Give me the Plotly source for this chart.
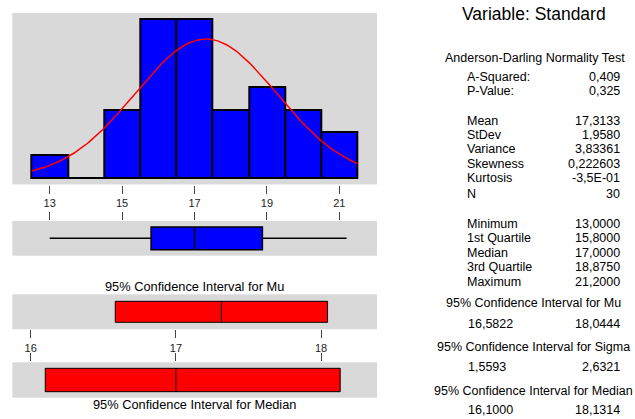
import numpy as np
import plotly.graph_objects as go

# ---------------- data ----------------
bin_centers = [13, 14, 15, 16, 17, 18, 19, 20, 21]
counts = [1, 0, 3, 7, 7, 3, 4, 3, 2]
mean = 17.3133
stdev = 1.9580
n_obs = 30
box_min, box_q1, box_median, box_q3, box_max = 13.0, 15.8, 17.0, 18.875, 21.2
mu_ci = [16.5822, 18.0444]
median_ci = [16.1000, 18.1314]
hist_ticks = [13, 15, 17, 19, 21]
ci_ticks = [16, 17, 18]

title_text = "Variable: Standard"
ad_title = "Anderson-Darling Normality Test"
ad_labels = ["A-Squared:", "P-Value:"]
ad_values = ["0,409", "0,325"]
desc_labels = ["Mean", "StDev", "Variance", "Skewness", "Kurtosis", "N"]
desc_values = ["17,3133", "1,9580", "3,83361", "0,222603", "-3,5E-01", "30"]
quart_labels = ["Minimum", "1st Quartile", "Median", "3rd Quartile", "Maximum"]
quart_values = ["13,0000", "15,8000", "17,0000", "18,8750", "21,2000"]
ci_titles = ["95% Confidence Interval for Mu",
             "95% Confidence Interval for Sigma",
             "95% Confidence Interval for Median"]
ci_low = ["16,5822", "1,5593", "16,1000"]
ci_high = ["18,0444", "2,6321", "18,1314"]

# ---------------- geometry helpers ----------------
W, H = 635, 419
def px(x):
    return x / W
def py(y):
    return 1 - y / H

FONT = "Liberation Sans, Arial, sans-serif"
GRAY = "#d9d9d9"
TICKC = "#444444"

fig = go.Figure()

# histogram
fig.add_trace(go.Bar(x=bin_centers, y=counts, width=1,
                     marker=dict(color="#0000ff", line=dict(color="black", width=2)),
                     xaxis="x", yaxis="y", showlegend=False))
# fitted normal curve
xs = np.linspace(bin_centers[0] - 0.5, bin_centers[-1] + 0.5, 200)
bw = bin_centers[1] - bin_centers[0]
ys = n_obs * bw / (stdev * np.sqrt(2 * np.pi)) * np.exp(-0.5 * ((xs - mean) / stdev) ** 2)
fig.add_trace(go.Scatter(x=xs, y=ys, mode="lines", line=dict(color="red", width=1.5),
                         xaxis="x", yaxis="y", showlegend=False))

# boxplot
fig.add_trace(go.Box(y=[0], q1=[box_q1], median=[box_median], q3=[box_q3],
                     lowerfence=[box_min], upperfence=[box_max], orientation="h",
                     fillcolor="#0000ff", line=dict(color="black", width=1.5),
                     whiskerwidth=0, width=0.66, xaxis="x2", yaxis="y2",
                     showlegend=False, boxpoints=False))

# CI for Mu
fig.add_trace(go.Box(y=[0], q1=[mu_ci[0]], median=[mean], q3=[mu_ci[1]],
                     lowerfence=[mu_ci[0]], upperfence=[mu_ci[1]], orientation="h",
                     fillcolor="#ff0000", line=dict(color="black", width=1),
                     whiskerwidth=0, width=0.6, xaxis="x3", yaxis="y3",
                     showlegend=False, boxpoints=False))
# CI for Median
fig.add_trace(go.Box(y=[0], q1=[median_ci[0]], median=[box_median], q3=[median_ci[1]],
                     lowerfence=[median_ci[0]], upperfence=[median_ci[1]], orientation="h",
                     fillcolor="#ff0000", line=dict(color="black", width=1),
                     whiskerwidth=0, width=0.66, xaxis="x4", yaxis="y4",
                     showlegend=False, boxpoints=False))

xdom = [px(12.3), px(377)]
hist_range = [11.967, 22.04]
ci_range = [15.873, 18.385]
common_ax = dict(showgrid=False, zeroline=False, showline=False, fixedrange=True)
tickfont = dict(family=FONT, size=11, color="#222222")

fig.update_layout(
    width=W, height=H, margin=dict(l=0, r=0, t=0, b=0),
    paper_bgcolor="white", plot_bgcolor=GRAY, bargap=0,
    font=dict(family=FONT, size=11, color="black"),
    xaxis=dict(domain=xdom, range=hist_range, anchor="y", tickvals=hist_ticks,
               ticks="outside", ticklen=8, tickwidth=1, tickcolor=TICKC,
               tickfont=tickfont, **common_ax),
    yaxis=dict(domain=[py(184.5), py(13)], range=[-0.3, 7.26], anchor="x",
               showticklabels=False, ticks="", **common_ax),
    xaxis2=dict(domain=xdom, range=hist_range, anchor="y2", side="top", matches="x",
                tickvals=hist_ticks, ticks="outside", ticklen=8, tickwidth=1,
                tickcolor=TICKC, showticklabels=False, **common_ax),
    yaxis2=dict(domain=[py(255.7), py(221)], range=[-0.5, 0.5], anchor="x2",
                showticklabels=False, ticks="", **common_ax),
    xaxis3=dict(domain=xdom, range=ci_range, anchor="y3", tickvals=ci_ticks,
                ticks="outside", ticklen=8, tickwidth=1, tickcolor=TICKC,
                tickfont=tickfont, **common_ax),
    yaxis3=dict(domain=[py(329.3), py(294.3)], range=[-0.5, 0.5], anchor="x3",
                showticklabels=False, ticks="", **common_ax),
    xaxis4=dict(domain=xdom, range=ci_range, anchor="y4", side="top", matches="x3",
                tickvals=ci_ticks, ticks="outside", ticklen=8, tickwidth=1,
                tickcolor=TICKC, showticklabels=False, **common_ax),
    yaxis4=dict(domain=[py(397.7), py(362.3)], range=[-0.5, 0.5], anchor="x4",
                showticklabels=False, ticks="", **common_ax),
)

ann = []
def text(x, y, s, anchor="center", size=12.5):
    ann.append(dict(x=px(x), y=py(y), xref="paper", yref="paper", text=s,
                    showarrow=False, xanchor=anchor, yanchor="middle",
                    font=dict(family=FONT, size=size, color="black")))

# left panel labels
text(194.6, 286, "95% Confidence Interval for Mu", size=12.8)
text(194.6, 404, "95% Confidence Interval for Median", size=12.8)

# right panel
text(534, 14, title_text, size=17.5)
text(535, 58, ad_title)
LX, RX = 465, 622
for i, (l, v) in enumerate(zip(ad_labels, ad_values)):
    text(LX, 77 + 14 * i, l, "left")
    text(RX, 77 + 14 * i, v, "right")
desc_y = [121, 135, 149, 164, 178, 194]
for l, v, y in zip(desc_labels, desc_values, desc_y):
    text(LX, y, l, "left")
    text(RX, y, v, "right")
quart_y = [224, 238, 253, 267, 282]
for l, v, y in zip(quart_labels, quart_values, quart_y):
    text(LX, y, l, "left")
    text(RX, y, v, "right")
ci_head_y = [303, 347, 391]
ci_val_y = [324, 367, 410]
for t, lo, hi, yh, yv in zip(ci_titles, ci_low, ci_high, ci_head_y, ci_val_y):
    text(533, yh, t)
    text(466, yv, lo, "left")
    text(RX, yv, hi, "right")

fig.update_layout(annotations=ann)
fig.write_html("out.html", config={"displayModeBar": False},
               post_script="document.body.style.margin='0';")
